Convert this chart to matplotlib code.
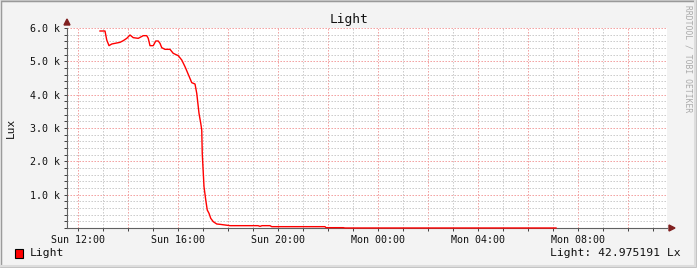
import matplotlib
matplotlib.use("Agg")
import matplotlib.pyplot as plt
from matplotlib.ticker import MultipleLocator, FuncFormatter
from matplotlib.patches import Rectangle

# hours after Sun 12:00
hours = [0.88, 1.08, 1.15, 1.24, 1.35, 1.48, 1.68, 1.81, 1.95, 2.08, 2.21,
         2.41, 2.61, 2.75, 2.81, 2.88, 3.01, 3.11, 3.21, 3.28, 3.35, 3.48,
         3.68, 3.81, 4.01, 4.15, 4.28, 4.41, 4.55, 4.68, 4.75, 4.84, 4.91,
         4.95, 4.97, 5.04, 5.11, 5.17, 5.24, 5.31, 5.41, 5.55, 5.68, 6.08,
         7.20, 7.28, 7.36, 7.68, 7.75, 9.88, 9.92, 10.61, 10.68, 19.12]
lux = [5910, 5910, 5640, 5470, 5520, 5540, 5570, 5620, 5690, 5790, 5710,
       5690, 5770, 5770, 5690, 5470, 5470, 5610, 5610, 5540, 5410, 5360,
       5360, 5240, 5170, 5040, 4840, 4610, 4360, 4320, 4040, 3440, 3140,
       2940, 2240, 1240, 840, 540, 440, 290, 190, 120, 110, 70,
       70, 50, 70, 70, 40, 40, 10, 10, 0, 0]

tick_hours = [0, 4, 8, 12, 16, 20]
tick_labels = ["Sun 12:00", "Sun 16:00", "Sun 20:00",
               "Mon 00:00", "Mon 04:00", "Mon 08:00"]

W, H = 697, 268
bg = "#F3F3F3"
plt.rcParams["font.family"] = "DejaVu Sans Mono"

fig = plt.figure(figsize=(W / 100, H / 100), dpi=100, facecolor=bg)
ax = fig.add_axes([67 / W, (H - 228) / H, 600 / W, 200 / H])
ax.set_facecolor("white")

ax.set_xlim(-0.44, 23.56)
ax.set_ylim(0, 6000)

# dotted grid
ax.xaxis.set_major_locator(MultipleLocator(2))
ax.xaxis.set_minor_locator(MultipleLocator(1))
ax.yaxis.set_major_locator(MultipleLocator(1000))
ax.yaxis.set_minor_locator(MultipleLocator(200))
ax.grid(which="minor", color="#C8C8C8", linestyle=(0, (1.4, 1.6)),
        linewidth=0.72)
ax.grid(which="major", color="#F29A9A", linestyle=(0, (1.4, 1.6)),
        linewidth=0.72)
ax.set_axisbelow(True)

lbl = dict(zip(tick_hours, tick_labels))
ax.xaxis.set_major_formatter(FuncFormatter(lambda v, p: lbl.get(int(round(v)), "")))
ax.yaxis.set_major_formatter(FuncFormatter(
    lambda v, p: "" if v == 0 else f"{v / 1000:.1f} k"))
ax.tick_params(which="both", length=2, width=0.7, color="#404040",
               labelsize=7.2, labelcolor="#111111", pad=3)

for s in ["top", "right"]:
    ax.spines[s].set_visible(False)
for s in ["left", "bottom"]:
    ax.spines[s].set_color("#606060")
    ax.spines[s].set_linewidth(0.8)

ax.plot(hours, lux, color="#FF0000", linewidth=1.0, zorder=3, clip_on=False)

# arrows at the axis ends
fig.patches.append(plt.Polygon([[64 / W, (H - 25) / H], [70 / W, (H - 25) / H],
                                [67 / W, (H - 19) / H]], closed=True,
                               transform=fig.transFigure, color="#802020"))
fig.patches.append(plt.Polygon([[669 / W, (H - 225) / H], [669 / W, (H - 231) / H],
                                [675 / W, (H - 228) / H]], closed=True,
                               transform=fig.transFigure, color="#802020"))

fig.text(11 / W, (H - 128) / H, "Lux", rotation=90, ha="center", va="center",
         fontsize=8, color="#111111")
fig.text(349 / W, (H - 19) / H, "Light", ha="center", va="center",
         fontsize=9.3, color="#111111")

# legend
fig.patches.append(Rectangle((15 / W, (H - 258) / H), 8 / W, 9 / H,
                             transform=fig.transFigure, facecolor="#FF0000",
                             edgecolor="black", linewidth=0.8))
fig.text(30 / W, (H - 253) / H, "Light", ha="left", va="center",
         fontsize=8.2, color="#111111")
fig.text(681 / W, (H - 253) / H, "Light: 42.975191 Lx", ha="right",
         va="center", fontsize=8.2, color="#111111")

fig.text(688 / W, (H - 5) / H, "RRDTOOL / TOBI OETIKER", rotation=270,
         ha="center", va="top", fontsize=5.8, color="#AAAAAA")

# 3d frame
fig.patches.append(Rectangle((0, 0), 1, 1, transform=fig.transFigure,
                             fill=False, edgecolor="#999999", linewidth=2.5))
fig.patches.append(Rectangle((0, 0), 1, 1, transform=fig.transFigure,
                             fill=False, edgecolor="#CCCCCC", linewidth=1.2))
fig.patches.append(Rectangle((0, 2.5 / H), 1 - 2.5 / W, 1,
                             transform=fig.transFigure,
                             fill=False, edgecolor="#DDDDDD", linewidth=1.5))

fig.savefig("out.png", dpi=100, facecolor=bg)
